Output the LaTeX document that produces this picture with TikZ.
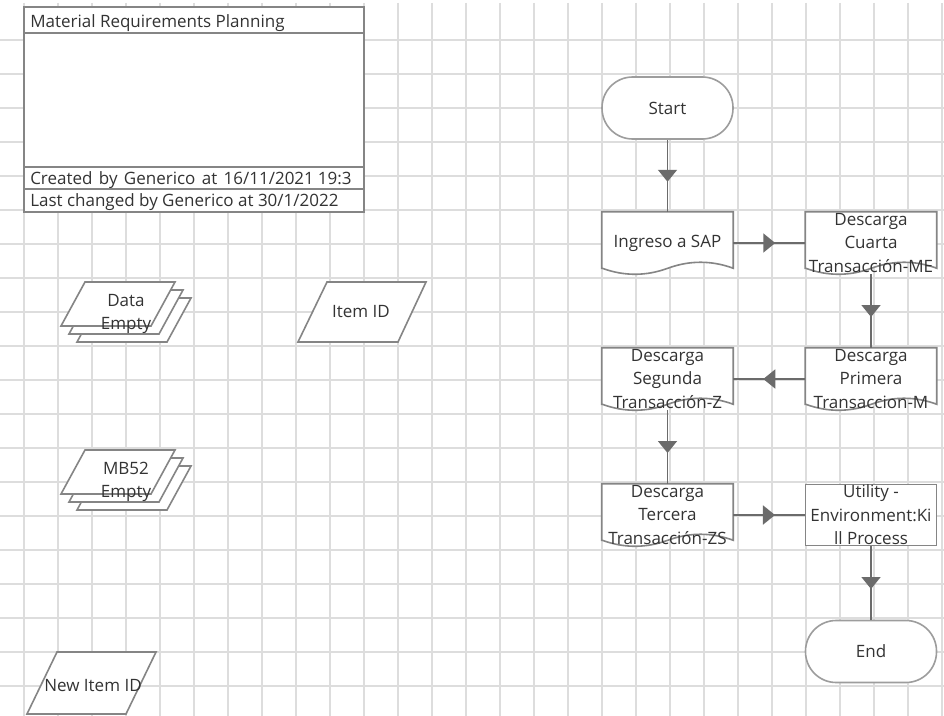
\documentclass[tikz,border=0pt]{standalone}
\usepackage{fontspec}
\setmainfont{Open Sans}
\usepackage{tikz}
\usetikzlibrary{arrows.meta, decorations.markings, backgrounds}

\definecolor{gridgray}{HTML}{DDDDDD}
\definecolor{boxgray}{HTML}{858585}
\definecolor{flowgray}{HTML}{6B6B6B}
\definecolor{txtgray}{HTML}{333333}

\tikzset{
  gridline/.style={draw=gridgray, line width=1.4pt},
  shapeline/.style={draw=boxgray, line width=1.2pt, fill=white},
  txt/.style={text=txtgray, font=\fontsize{12.75}{17.6}\selectfont, align=center, inner sep=0pt},
  docbox/.style={txt, minimum width=98.25pt, minimum height=46.5pt},
  procbox/.style={shapeline, inner sep=0pt, minimum width=98.25pt, minimum height=45.75pt},
  termbox/.style={txt, shapeline, draw=boxgray!80, rounded corners=23pt, minimum width=98.25pt, minimum height=46.5pt},
  flow/.style={draw=flowgray, line width=1.3pt, postaction={decorate}, decoration={markings, mark=at position 0.5 with {\arrow[flowgray, xshift=4.5pt]{Triangle[width=14.25pt, length=9pt]}}}},
}

\begin{document}
\begin{tikzpicture}[x=0.75pt, y=-0.75pt]
\useasboundingbox (0,0) rectangle (944,716);
\begin{scope}[on background layer]
\fill[white] (0,0) rectangle (944,716);
\foreach \k in {0,...,27} \draw[gridline] ({24+34*\k},3) -- ({24+34*\k},716);
\foreach \k in {1,...,20} \draw[gridline] (0,{6+34*\k}) -- (944,{6+34*\k});
\end{scope}

\draw[shapeline] (24,7) rectangle (364,212);
\draw[boxgray, line width=1.2pt] (24,33) -- (364,33) (24,167) -- (364,167) (24,189) -- (364,189);
\node[txt, anchor=base west] (title) at (30,28) {Material Requirements Planning};
\node[txt, anchor=base west] (created) at (30,185) {\makebox[241pt][s]{Created by Generico at 16/11/2021\kern3pt 19:3}};
\node[txt, anchor=base west] (changed) at (30,207) {Last changed by Generico at 30/1/2022};

\foreach \d in {16,8,0} \draw[shapeline, shift={(\d,\d)}] (85,282) -- (175,282) -- (151,326) -- (61,326) -- cycle;
\node[txt] (data) at (126,314) {Data\\Empty};
\foreach \d in {16,8,0} \draw[shapeline, shift={(\d,\d)}] (85,450) -- (175,450) -- (151,494) -- (61,494) -- cycle;
\node[txt] (mb52) at (126,482) {MB52\\Empty};
\draw[shapeline] (327,282) -- (426,282) -- (398,342) -- (298,342) -- cycle;
\node[txt] (itemid) at (361,312) {Item ID};
\draw[shapeline] (57,652) -- (156,652) -- (126,714) -- (27,714) -- cycle;
\node[txt] (newitem) at (93,686) {New Item ID};

\node[termbox] (start) at (667.5,108) {Start};
\node[docbox] (ingreso) at (667.5,243) {Ingreso a SAP};
\node[docbox] (cuarta) at (871,243) {};
\node[txt] (cuartatxt) at (cuarta) {Descarga\\Cuarta\\Transacción-ME};
\node[docbox] (primera) at (871,379) {};
\node[txt] (primeratxt) at (primera) {Descarga\\Primera\\Transaccion-M};
\node[docbox] (segunda) at (667.5,379) {};
\node[txt] (segundatxt) at (segunda) {Descarga\\Segunda\\Transacción-Z};
\node[docbox] (tercera) at (667.5,515) {};
\node[txt] (terceratxt) at (tercera) {Descarga\\Tercera\\Transacción-ZS};
\node[procbox] (utility) at (871,515) {};
\node[txt] (utilitytxt) at (utility) {Utility -\\Environment:Ki\\ll Process};
\node[termbox] (finish) at (871,651.5) {End};

\begin{scope}[on background layer]
\foreach \n in {ingreso,cuarta,primera,segunda,tercera}
  \draw[shapeline] ([yshift=4.5pt]\n.south west) -- (\n.north west) -- (\n.north east) -- ([yshift=4.5pt]\n.south east)
    .. controls +(-21.8,-8) and +(21.8,-8) .. ++(-65.5,0)
    .. controls +(-21.8,8) and +(21.8,8) .. ++(-65.5,0) -- cycle;
\end{scope}

\draw[flow] (start) -- (ingreso);
\draw[flow] (ingreso) -- (cuarta);
\draw[flow] (cuarta) -- (primera);
\draw[flow] (primera) -- (segunda);
\draw[flow] (segunda) -- (tercera);
\draw[flow] (tercera) -- (utility);
\draw[flow] (utility) -- (finish);
\end{tikzpicture}
\end{document}
